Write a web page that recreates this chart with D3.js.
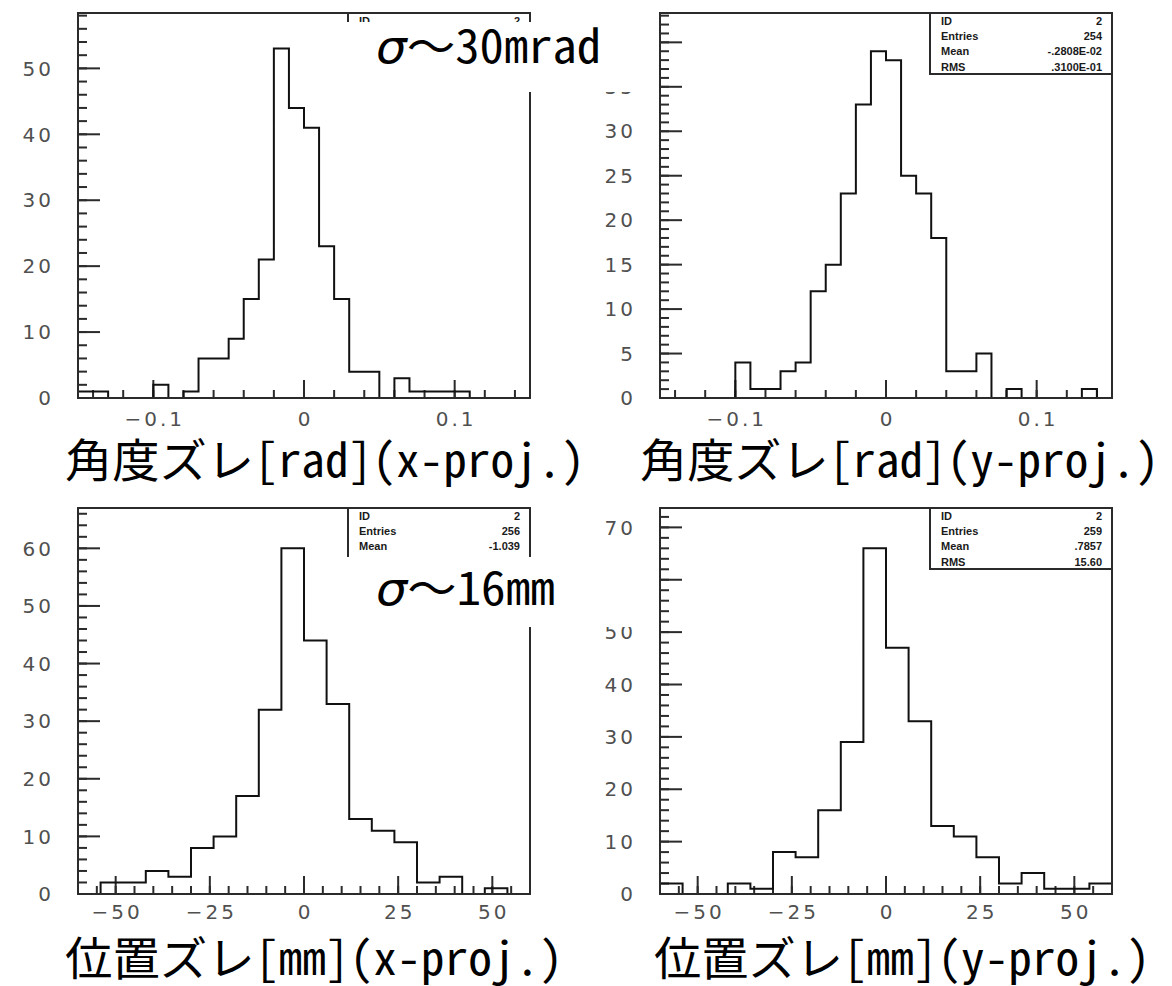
<!DOCTYPE html>
<html>
<head>
<meta charset="utf-8">
<script src="https://cdn.jsdelivr.net/npm/d3@7"></script>
<style>
    body { margin: 0; background: #fff; }
    svg { display: block; }
    .tick-label { font-family: "DejaVu Sans", sans-serif; font-size: 20px; fill: #505050; letter-spacing: 3px; }
    .stat { font-family: "Liberation Sans", Arial, sans-serif; font-size: 11px; font-weight: bold; fill: #1a1a1a; }
    .title { font-family: "Noto Sans Mono CJK JP", "Noto Sans CJK JP", monospace; font-size: 46px; fill: #000; }
</style>
</head>
<body>
<svg id="chart" width="1172" height="986"></svg>
<script>
// ---- データ ----
const angleRange = [-0.15, 0.15];   // 30 bins
const posRange = [-60, 60];          // 20 bins

const angleXCounts = [1, 1, 0, 0, 0, 2, 0, 1, 6, 6, 9, 15, 21, 53, 44, 41, 23, 15, 4, 4, 0, 3, 1, 1, 1, 1, 0, 0, 0, 0];
const angleYCounts = [0, 0, 0, 0, 0, 4, 1, 1, 3, 4, 12, 15, 23, 33, 39, 38, 25, 23, 18, 3, 3, 5, 0, 1, 0, 0, 0, 0, 1, 0];
const posXCounts = [0, 2, 2, 4, 3, 8, 10, 17, 32, 60, 44, 33, 13, 11, 9, 2, 3, 0, 1, 0];
const posYCounts = [2, 0, 0, 2, 1, 8, 7, 16, 29, 66, 47, 33, 13, 11, 7, 2, 4, 1, 1, 2];

const angleMajorTicks = [-0.1, 0, 0.1];
const angleTickLabels = ['\u22120.1', '0', '0.1'];
const posMajorTicks = [-50, -25, 0, 25, 50];
const posTickLabels = ['\u221250', '\u221225', '0', '25', '50'];

const statsAngleX = [['ID', '2']];
const statsAngleY = [['ID', '2'], ['Entries', '254'], ['Mean', '-.2808E-02'], ['RMS', '.3100E-01']];
const statsPosX = [['ID', '2'], ['Entries', '256'], ['Mean', '-1.039']];
const statsPosY = [['ID', '2'], ['Entries', '259'], ['Mean', '.7857'], ['RMS', '15.60']];

const titles = ['角度ズレ[rad](x-proj.)', '角度ズレ[rad](y-proj.)', '位置ズレ[mm](x-proj.)', '位置ズレ[mm](y-proj.)'];
const sigmaNotes = [['σ', '～30mrad'], ['σ', '～16mm']];

// ---- 描画 ----
const svg = d3.select('#chart');

const panels = [
    { counts: angleXCounts, range: angleRange, yMax: 58.4, yMajor: 10, yMinor: 2,
      xMinor: 0.02, xMinorFrom: -0.14, majors: angleMajorTicks, labels: angleTickLabels,
      left: 78, right: 530, top: 13, bottom: 398, stats: statsAngleX, labelDy: 28 },
    { counts: angleYCounts, range: angleRange, yMax: 43.3, yMajor: 5, yMinor: 1,
      xMinor: 0.02, xMinorFrom: -0.14, majors: angleMajorTicks, labels: angleTickLabels,
      left: 660, right: 1112, top: 13, bottom: 398, stats: statsAngleY, labelDy: 28 },
    { counts: posXCounts, range: posRange, yMax: 67, yMajor: 10, yMinor: 2,
      xMinor: 5, xMinorFrom: -55, majors: posMajorTicks, labels: posTickLabels,
      left: 78, right: 530, top: 508, bottom: 894, stats: statsPosX, labelDy: 25 },
    { counts: posYCounts, range: posRange, yMax: 73.7, yMajor: 10, yMinor: 2,
      xMinor: 5, xMinorFrom: -55, majors: posMajorTicks, labels: posTickLabels,
      left: 660, right: 1112, top: 508, bottom: 894, stats: statsPosY, labelDy: 25 }
];

function drawPanel(p) {
    const g = svg.append('g');
    const x = d3.scaleLinear().domain(p.range).range([p.left, p.right]);
    const y = d3.scaleLinear().domain([0, p.yMax]).range([p.bottom, p.top]);

    // ビン境界
    const n = p.counts.length;
    const edges = d3.range(n + 1).map(i => p.range[0] + i * (p.range[1] - p.range[0]) / n);

    const yMinorVals = d3.range(0, p.yMax, p.yMinor);
    const yMajorVals = d3.range(0, p.yMax, p.yMajor);
    const xMinorVals = d3.range(p.xMinorFrom, p.range[1] - 1e-9, p.xMinor);

    // 目盛り (内向き): 小さな矩形で描く
    const tickG = g.append('g').attr('fill', '#2b2b2b');
    tickG.selectAll('rect.ymin').data(yMinorVals).join('rect')
        .attr('class', 'ymin')
        .attr('x', p.left).attr('y', d => y(d) - 1)
        .attr('width', 9).attr('height', 2);
    tickG.selectAll('rect.ymaj').data(yMajorVals).join('rect')
        .attr('class', 'ymaj')
        .attr('x', p.left).attr('y', d => y(d) - 1)
        .attr('width', 22).attr('height', 2);
    tickG.selectAll('rect.xmin').data(xMinorVals).join('rect')
        .attr('class', 'xmin')
        .attr('x', d => x(d) - 1).attr('y', p.bottom - 8)
        .attr('width', 2).attr('height', 8);
    tickG.selectAll('rect.xmaj').data(p.majors).join('rect')
        .attr('class', 'xmaj')
        .attr('x', d => x(d) - 1).attr('y', p.bottom - 18)
        .attr('width', 2).attr('height', 18);

    // 目盛りラベル
    g.selectAll('text.ylab').data(yMajorVals).enter().append('text')
        .attr('class', 'tick-label')
        .attr('x', p.left - 24)
        .attr('y', d => y(d))
        .attr('dy', '0.36em')
        .attr('text-anchor', 'end')
        .text(d => d);
    g.selectAll('text.xlab').data(p.majors).enter().append('text')
        .attr('class', 'tick-label')
        .attr('x', d => x(d) + 1.5)
        .attr('y', p.bottom + p.labelDy)
        .attr('text-anchor', 'middle')
        .text((d, i) => p.labels[i]);

    // ヒストグラム (階段状)
    const pts = [[edges[0], 0]];
    p.counts.forEach((c, i) => {
        pts.push([edges[i], c]);
        pts.push([edges[i + 1], c]);
    });
    pts.push([edges[n], 0]);
    g.append('path')
        .attr('d', d3.line().x(d => x(d[0])).y(d => y(d[1]))(pts))
        .attr('fill', 'none')
        .attr('stroke', '#111')
        .attr('stroke-width', 2);

    // 枠
    g.append('rect')
        .attr('x', p.left).attr('y', p.top)
        .attr('width', p.right - p.left).attr('height', p.bottom - p.top)
        .attr('fill', 'none').attr('stroke', '#2b2b2b').attr('stroke-width', 2);

    // 統計ボックス
    const bx = p.right - 182, by = p.top, bh = 61;
    g.append('rect')
        .attr('x', bx).attr('y', by).attr('width', 182).attr('height', bh)
        .attr('fill', '#fff').attr('stroke', '#2b2b2b').attr('stroke-width', 2);
    p.stats.forEach((row, i) => {
        g.append('text').attr('class', 'stat')
            .attr('x', bx + 11).attr('y', by + 11.5 + i * 15.4).text(row[0]);
        g.append('text').attr('class', 'stat')
            .attr('x', p.right - 10).attr('y', by + 11.5 + i * 15.4)
            .attr('text-anchor', 'end').text(row[1]);
    });
}

panels.forEach(drawPanel);

// σ の注記 (白抜きボックス)
const notes = [
    { box: [345, 22, 300, 70], x: 376, y: 63, len: 225 },
    { box: [345, 557, 300, 70], x: 376, y: 605, len: 179 }
];
notes.forEach((nt, i) => {
    svg.append('rect')
        .attr('x', nt.box[0]).attr('y', nt.box[1])
        .attr('width', nt.box[2]).attr('height', nt.box[3])
        .attr('fill', '#fff');
    const t = svg.append('text').attr('class', 'title')
        .attr('x', nt.x).attr('y', nt.y)
        .attr('textLength', nt.len).attr('lengthAdjust', 'spacingAndGlyphs');
    t.append('tspan').attr('font-family', '"DejaVu Sans", sans-serif').attr('font-style', 'italic')
        .text(sigmaNotes[i][0]);
    t.append('tspan').text(sigmaNotes[i][1]);
});

// 軸タイトル
const titlePos = [
    { x: 65, y: 477, len: 520 },
    { x: 640, y: 477, len: 519 },
    { x: 65, y: 975, len: 498 },
    { x: 654, y: 975, len: 496 }
];
titles.forEach((tt, i) => {
    svg.append('text').attr('class', 'title')
        .attr('x', titlePos[i].x).attr('y', titlePos[i].y)
        .attr('textLength', titlePos[i].len).attr('lengthAdjust', 'spacingAndGlyphs')
        .text(tt);
});
</script>
</body>
</html>
